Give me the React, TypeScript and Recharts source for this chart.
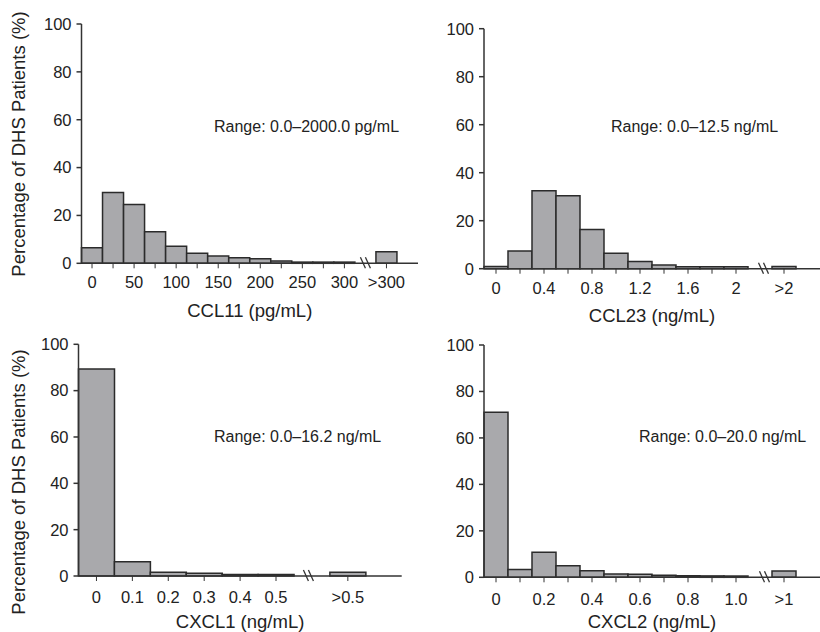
import { BarChart, Bar, XAxis, YAxis } from 'recharts';

const FONT = '"Liberation Sans", Arial, Helvetica, sans-serif';
const INK = '#222';
const BAR_FILL = '#a9a9ac';
const BAR_EDGE = '#2b2b2b';
const AXIS = '#333';

const yTicks = [0, 20, 40, 60, 80, 100];
const yTitle = 'Percentage of DHS Patients (%)';

// CCL11 (pg/mL)
const ccl11Bins = ['0', '25', '50', '75', '100', '125', '150', '175', '200', '225', '250', '275', '300'];
const ccl11Values = [6.5, 29.6, 24.6, 13.2, 7.1, 4.2, 3.0, 2.3, 1.9, 1.0, 0.5, 0.5, 0.5];
const ccl11Labels = ['0', '50', '100', '150', '200', '250', '300'];
const ccl11Over = '>300';
const ccl11OverValue = 4.8;

// CCL23 (ng/mL)
const ccl23Bins = ['0', '0.2', '0.4', '0.6', '0.8', '1.0', '1.2', '1.4', '1.6', '1.8', '2'];
const ccl23Values = [0.9, 7.4, 32.5, 30.4, 16.3, 6.4, 3.0, 1.5, 0.8, 0.8, 0.8];
const ccl23Labels = ['0', '0.4', '0.8', '1.2', '1.6', '2'];
const ccl23Over = '>2';
const ccl23OverValue = 0.9;

// CXCL1 (ng/mL)
const cxcl1Bins = ['0', '0.1', '0.2', '0.3', '0.4', '0.5'];
const cxcl1Values = [89.3, 6.2, 1.6, 1.2, 0.7, 0.7];
const cxcl1Labels = ['0', '0.1', '0.2', '0.3', '0.4', '0.5'];
const cxcl1Over = '>0.5';
const cxcl1OverValue = 1.6;

// CXCL2 (ng/mL)
const cxcl2Bins = ['0', '0.1', '0.2', '0.3', '0.4', '0.5', '0.6', '0.7', '0.8', '0.9', '1.0'];
const cxcl2Values = [71, 3.4, 10.8, 5.0, 2.8, 1.4, 1.3, 0.9, 0.7, 0.6, 0.55];
const cxcl2Labels = ['0', '0.2', '0.4', '0.6', '0.8', '1.0'];
const cxcl2Over = '>1';
const cxcl2OverValue = 2.7;

type Row = { bin: string; value: number | null; label: string; kind: 'bin' | 'gap' | 'end' };

function buildRows(bins: string[], values: number[], labels: string[], over: string, overValue: number): Row[] {
  const rows: Row[] = bins.map((b, i) => ({
    bin: b,
    value: values[i],
    label: labels.includes(b) ? b : '',
    kind: 'bin',
  }));
  rows.push({ bin: 'gap', value: null, label: '', kind: 'gap' });
  rows.push({ bin: over, value: overValue, label: over, kind: 'bin' });
  rows.push({ bin: 'end', value: null, label: '', kind: 'end' });
  return rows;
}

interface PanelProps {
  rows: Row[];
  left: number;
  top: number;
  width: number;
  height: number;
  plotLeft: number;
  plotRight: number;
  plotTop: number;
  plotBottom: number;
  titleBaseline: number;
  title: string;
  yTitleY?: number;
  range: string;
  rangeX: number;
  rangeY: number;
  labelDy: number;
  breakDx: number;
}

function Panel(p: PanelProps) {
  const margin = {
    top: p.plotTop - p.top,
    right: p.left + p.width - p.plotRight,
    bottom: p.top + p.height - p.titleBaseline,
    left: 0,
  };

  const renderTick = (props: any) => {
    const { x, y, payload } = props;
    const row = p.rows.find((r) => r.bin === payload.value);
    if (!row || row.kind === 'end') return <g />;
    if (row.kind === 'gap') {
      const cx = x + p.breakDx;
      return (
        <g>
          <line x1={cx - 5.5} y1={y - 6} x2={cx - 0.5} y2={y + 5} stroke={AXIS} strokeWidth={1.3} />
          <line x1={cx - 0.5} y1={y - 6} x2={cx + 4.5} y2={y + 5} stroke={AXIS} strokeWidth={1.3} />
        </g>
      );
    }
    return (
      <g>
        <line x1={x} x2={x} y1={y} y2={y + 5} stroke={AXIS} strokeWidth={1} />
        {row.label && (
          <text x={x} y={y + p.labelDy} textAnchor="middle" fontSize={16.5} fill={INK} fontFamily={FONT}>
            {row.label}
          </text>
        )}
      </g>
    );
  };

  const renderYTitle = () => (
    <text
      transform={`translate(${18 - p.left}, ${(p.yTitleY ?? 0) - p.top}) rotate(-90)`}
      textAnchor="middle"
      dominantBaseline="central"
      fontSize={18.5}
      fill={INK}
      fontFamily={FONT}
    >
      {yTitle}
    </text>
  );

  return (
    <div style={{ position: 'absolute', left: p.left, top: p.top, width: p.width, height: p.height }}>
      <BarChart width={p.width} height={p.height} data={p.rows} margin={margin} barCategoryGap={0} barGap={0}>
        <XAxis
          dataKey="bin"
          type="category"
          interval={0}
          height={p.titleBaseline - p.plotBottom}
          tickLine={false}
          tickSize={0}
          tickMargin={0}
          tick={renderTick}
          axisLine={{ stroke: AXIS, strokeWidth: 1.5 }}
          label={{ value: p.title, position: 'insideBottom', offset: 0, fontSize: 18.5, fill: INK }}
        />
        <YAxis
          type="number"
          domain={[0, 100]}
          ticks={yTicks}
          interval={0}
          width={p.plotLeft - p.left}
          tickSize={5}
          tickMargin={5}
          tick={{ fontSize: 16.5, fill: INK }}
          tickLine={{ stroke: AXIS, strokeWidth: 1.5 }}
          axisLine={{ stroke: AXIS, strokeWidth: 1.5 }}
          label={p.yTitleY !== undefined ? renderYTitle : undefined}
        />
        <Bar dataKey="value" fill={BAR_FILL} stroke={BAR_EDGE} strokeWidth={1.5} isAnimationActive={false} />
      </BarChart>
      <div
        style={{
          position: 'absolute',
          left: p.rangeX - p.left,
          top: p.rangeY - p.top - 7.8,
          fontSize: 16,
          lineHeight: 1,
          whiteSpace: 'nowrap',
          color: INK,
        }}
      >
        {p.range}
      </div>
    </div>
  );
}

export default function App() {
  return (
    <div
      style={{
        position: 'absolute',
        left: 0,
        top: 0,
        width: 820,
        height: 632,
        background: '#fff',
        fontFamily: FONT,
        overflow: 'hidden',
      }}
    >
      <Panel
        rows={buildRows(ccl11Bins, ccl11Values, ccl11Labels, ccl11Over, ccl11OverValue)}
        left={0}
        top={0}
        width={430}
        height={325}
        plotLeft={81.5}
        plotRight={418}
        plotTop={24}
        plotBottom={263.3}
        titleBaseline={317}
        title="CCL11 (pg/mL)"
        yTitleY={144}
        range="Range: 0.0–2000.0 pg/mL"
        rangeX={214}
        rangeY={127}
        labelDy={25}
        breakDx={0.5}
      />
      <Panel
        rows={buildRows(ccl23Bins, ccl23Values, ccl23Labels, ccl23Over, ccl23OverValue)}
        left={420}
        top={0}
        width={400}
        height={330}
        plotLeft={484}
        plotRight={820}
        plotTop={28.7}
        plotBottom={268.7}
        titleBaseline={322}
        title="CCL23 (ng/mL)"
        range="Range: 0.0–12.5 ng/mL"
        rangeX={611}
        rangeY={127}
        labelDy={25}
        breakDx={4}
      />
      <Panel
        rows={buildRows(cxcl1Bins, cxcl1Values, cxcl1Labels, cxcl1Over, cxcl1OverValue)}
        left={0}
        top={320}
        width={430}
        height={312}
        plotLeft={78.5}
        plotRight={401.7}
        plotTop={344.3}
        plotBottom={576}
        titleBaseline={628}
        title="CXCL1 (ng/mL)"
        yTitleY={482}
        range="Range: 0.0–16.2 ng/mL"
        rangeX={214}
        rangeY={437}
        labelDy={26.6}
        breakDx={-3}
      />
      <Panel
        rows={buildRows(cxcl2Bins, cxcl2Values, cxcl2Labels, cxcl2Over, cxcl2OverValue)}
        left={420}
        top={320}
        width={400}
        height={312}
        plotLeft={484}
        plotRight={820}
        plotTop={345}
        plotBottom={577.3}
        titleBaseline={628}
        title="CXCL2 (ng/mL)"
        range="Range: 0.0–20.0 ng/mL"
        rangeX={639}
        rangeY={437}
        labelDy={27.6}
        breakDx={5}
      />
    </div>
  );
}
